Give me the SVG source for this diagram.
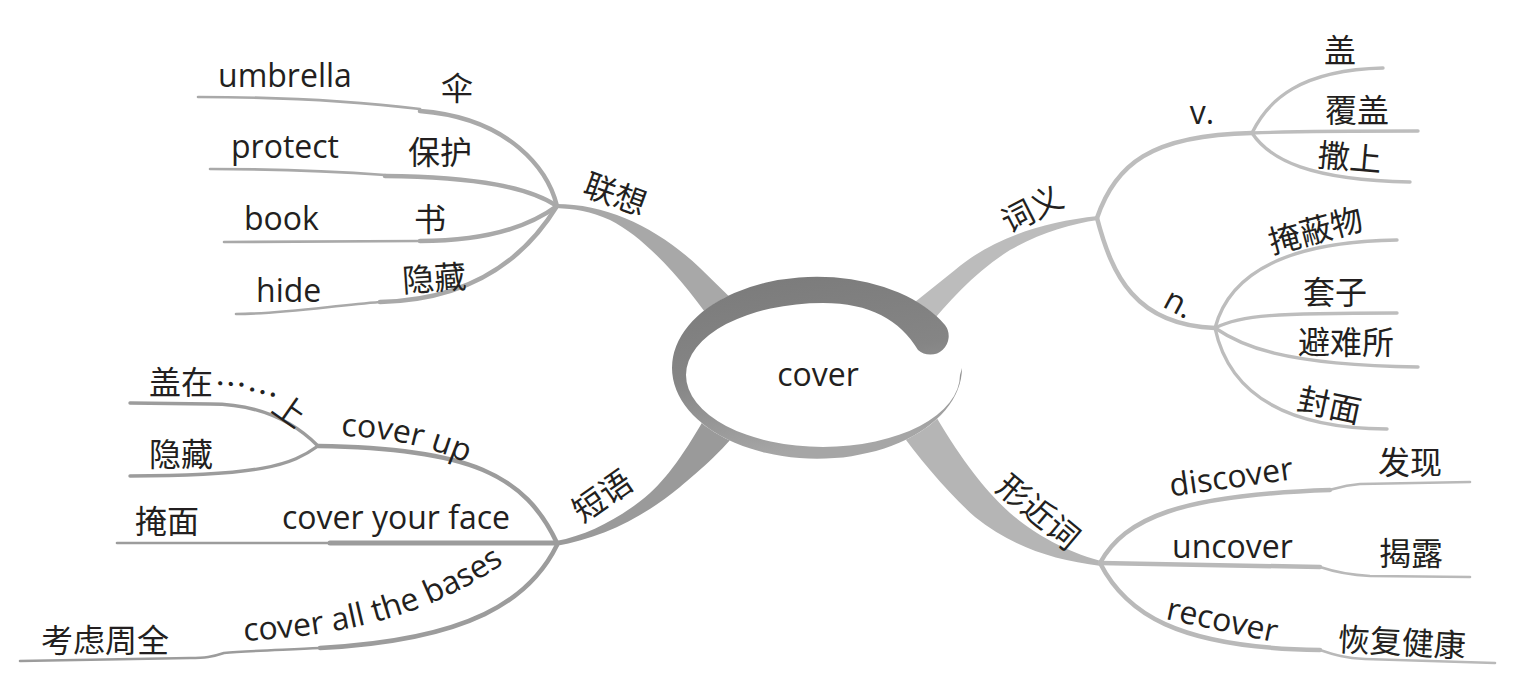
<svg xmlns="http://www.w3.org/2000/svg" width="1516" height="679" viewBox="0 0 1516 679">
<defs>
<style>
.lt{font-family:"Open Sans","Noto Sans CJK SC",sans-serif;font-size:32px;fill:#231f20}
.cj{font-family:"Noto Sans CJK SC","Open Sans",sans-serif;font-size:32px;fill:#231f20;text-anchor:middle;dominant-baseline:central}
.cjp{font-family:"Noto Sans CJK SC","Open Sans",sans-serif;font-size:32px;fill:#231f20}
.mid{text-anchor:middle}
.ln{fill:none;stroke-linecap:round;stroke-linejoin:round}
.a{stroke:#a9a9a9}.b{stroke:#bdbdbd}.c{stroke:#9c9c9c}.d{stroke:#b9b9b9}
.k{stroke-width:4.5}.n{stroke-width:2.6}.m{stroke-width:3.4}
</style>
<linearGradient id="sw" x1="0" y1="0" x2="0.25" y2="1">
<stop offset="0" stop-color="#7a7a7a"/>
<stop offset="0.55" stop-color="#858585"/>
<stop offset="1" stop-color="#a6a6a6"/>
</linearGradient>
<path id="pUp" d="M341,436 C385,437 430,445 482,470"/>
<path id="pBases" d="M244,641 C330,636 430,622 522,550"/>
</defs>
<rect width="1516" height="679" fill="#ffffff"/>

<g id="connectors">
<path d="M556,204 C610,204 660,230 700,268 L745,312 L718,330 C690,290 650,240 610,220 C590,211 575,209 556,208 Z" fill="#a8a8a8"/>
<path d="M1098,216 C1040,222 990,240 955,270 L895,318 L925,330 C950,300 975,272 1010,250 C1040,233 1070,224 1098,220 Z" fill="#bcbcbc"/>
<path d="M556,541 C590,535 625,515 650,493 C670,475 690,445 712,405 L750,415 C725,450 700,470 680,487 C640,520 600,538 556,546 Z" fill="#9a9a9a"/>
<path d="M895,425 C920,460 950,495 975,517 C1010,545 1050,560 1101,566 L1101,561 C1060,550 1030,530 1010,513 C985,490 965,465 935,415 Z" fill="#b5b5b5"/>

<path class="ln a k" d="M557,206 C548,170 510,118 420,111"/>
<path class="ln a n" d="M420,109 C370,103 300,97 198,97"/>
<path class="ln a k" d="M557,206 C530,188 480,177 385,176"/>
<path class="ln a n" d="M385,175 C330,171 270,169 210,169"/>
<path class="ln a k" d="M557,206 C530,226 490,241 420,241"/>
<path class="ln a n" d="M420,241 L224,242"/>
<path class="ln a k" d="M557,206 C530,250 480,300 380,302"/>
<path class="ln a n" d="M380,302 C330,306 280,314 236,314"/>

<path class="ln b k" d="M1097,218 C1115,165 1150,135 1252,133"/>
<path class="ln b k" d="M1097,218 C1112,275 1135,325 1215,328"/>
<path class="ln b m" d="M1252,133 C1268,100 1300,70 1383,68"/>
<path class="ln b m" d="M1252,133 C1300,131 1350,131 1418,131"/>
<path class="ln b m" d="M1252,133 C1270,160 1310,180 1410,182"/>
<path class="ln b m" d="M1215,328 C1225,290 1260,242 1397,240"/>
<path class="ln b m" d="M1215,328 C1240,315 1275,313 1397,313"/>
<path class="ln b m" d="M1215,328 C1240,345 1280,365 1418,367"/>
<path class="ln b m" d="M1215,328 C1225,375 1260,428 1387,429"/>

<path class="ln c k" d="M557,543 C525,475 470,448 318,446"/>
<path class="ln c m" d="M318,446 C290,418 255,404 210,404 L130,403"/>
<path class="ln c m" d="M318,446 C292,465 260,476 130,476"/>
<path class="ln c" stroke-width="5" d="M557,543 L330,543"/>
<path class="ln c n" d="M330,543 L117,543"/>
<path class="ln c k" d="M557,545 C530,600 470,640 320,648"/>
<path class="ln c n" d="M320,648 C280,650 245,651 224,653 C212,657 205,658 190,658 L20,661"/>

<path class="ln d k" d="M1100,563 C1125,518 1180,495 1330,490"/>
<path class="ln d n" d="M1330,490 C1340,487 1345,485 1360,484 L1470,482"/>
<path class="ln d k" d="M1100,563 L1320,567"/>
<path class="ln d n" d="M1320,567 C1335,572 1350,575 1370,576 L1470,577"/>
<path class="ln d k" d="M1100,563 C1125,612 1175,648 1320,650"/>
<path class="ln d n" d="M1320,650 C1335,655 1345,658 1365,659 L1495,663"/>
</g>

<g id="node-cover">
<ellipse cx="817" cy="368" rx="145" ry="91" fill="#ffffff"/>
<path d="M945,325 A145,91 0 1 0 962,368 L960,375 A137,72 0 0 1 686,375 A137,72 0 0 1 823,303 C870,303 900,320 918,350 A18.5,18.5 0 0 0 945,325 Z" fill="url(#sw)"/>
<text class="lt mid" x="818" y="386">cover</text>
</g>

<g id="node-lianxiang">
<text class="cj" transform="translate(616,192) rotate(20)">联想</text>
</g>
<g id="node-umbrella"><text class="lt" x="218" y="87">umbrella</text><text class="cj" x="457" y="86">伞</text></g>
<g id="node-protect"><text class="lt" x="231" y="158">protect</text><text class="cj" x="440" y="150">保护</text></g>
<g id="node-book"><text class="lt" x="244" y="230">book</text><text class="cj" x="430" y="217">书</text></g>
<g id="node-hide"><text class="lt" x="256" y="302">hide</text><text class="cj" transform="translate(434,276) rotate(-4)">隐藏</text></g>

<g id="node-ciyi">
<text class="cj" transform="translate(1031,207) rotate(-27)">词义</text>
</g>
<g id="node-v"><text class="lt mid" x="1202" y="124">v.</text></g>
<g id="node-gai"><text class="cj" x="1340" y="48">盖</text></g>
<g id="node-fugai"><text class="cj" x="1357" y="108">覆盖</text></g>
<g id="node-sashang"><text class="cj" transform="translate(1350,155) rotate(5)">撒上</text></g>
<g id="node-n"><text class="lt mid" transform="translate(1178,305) rotate(28)" y="9">n.</text></g>
<g id="node-yanbiwu"><text class="cj" transform="translate(1315,228) rotate(-15)">掩蔽物</text></g>
<g id="node-taozi"><text class="cj" x="1335" y="290">套子</text></g>
<g id="node-binansuo"><text class="cj" x="1346" y="340">避难所</text></g>
<g id="node-fengmian"><text class="cj" transform="translate(1330,403) rotate(12)">封面</text></g>

<g id="node-duanyu">
<text class="cj" transform="translate(601,494) rotate(-35)">短语</text>
</g>
<g id="node-coverup"><text class="lt"><textPath href="#pUp">cover up</textPath></text></g>
<g id="node-gaizai"><text class="cjp" x="149 181 214 244 270" y="394 394 395 400 411" rotate="0 0 4 14 35">盖在……上</text></g>
<g id="node-yincang"><text class="cj" x="181" y="452">隐藏</text></g>
<g id="node-coverface"><text class="lt" x="282" y="529">cover your face</text><text class="cj" x="167" y="519">掩面</text></g>
<g id="node-bases"><text class="lt"><textPath href="#pBases">cover all the bases</textPath></text><text class="cj" x="105" y="638">考虑周全</text></g>

<g id="node-xingjinci">
<text class="cj" transform="translate(1040,510) rotate(40)">形近词</text>
</g>
<g id="node-discover"><text class="lt mid" transform="translate(1231,476) rotate(-8)" y="12">discover</text><text class="cj" x="1410" y="460">发现</text></g>
<g id="node-uncover"><text class="lt" x="1172" y="558">uncover</text><text class="cj" x="1411" y="551">揭露</text></g>
<g id="node-recover"><text class="lt mid" transform="translate(1222,622) rotate(12)" y="9">recover</text><text class="cj" transform="translate(1402,640) rotate(3)">恢复健康</text></g>
</svg>
